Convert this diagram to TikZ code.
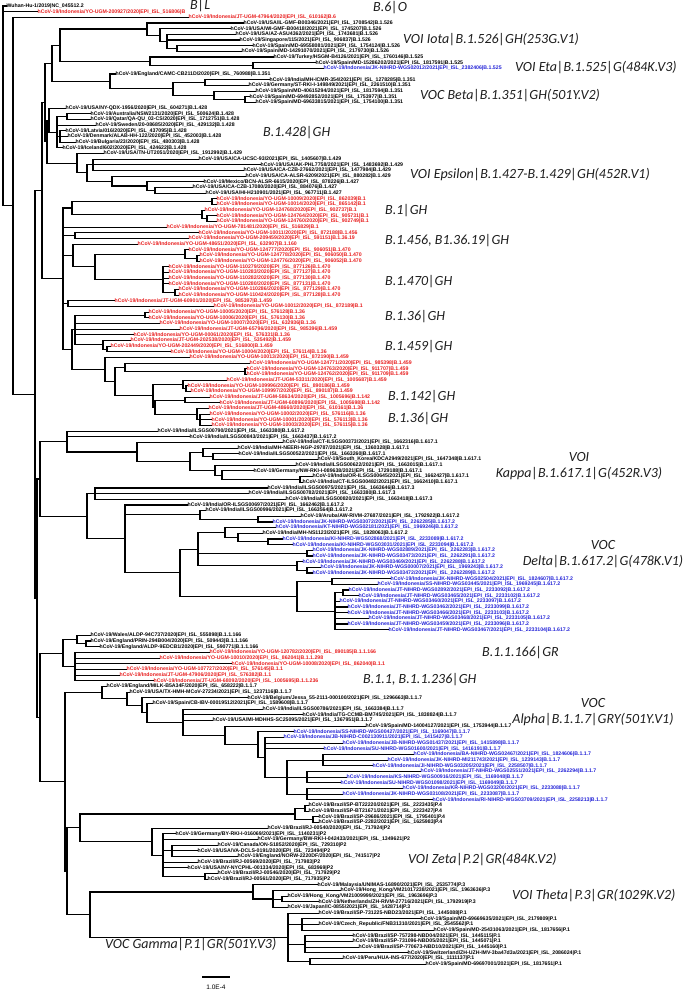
\documentclass[tikz,border=0pt]{standalone}
\usepackage{fontspec}
\usetikzlibrary{calc}
\newfontfamily\arialfamily{Liberation Sans}
\newfontfamily\calibrifamily{Carlito}
\definecolor{idnred}{RGB}{232,30,30}
\definecolor{nihblue}{RGB}{36,36,215}
\definecolor{cladegray}{RGB}{30,30,30}
\newcommand\hcov{hCoV-19/}
\newcommand\hcid{hCoV-19/Indonesia/}
\newcommand\epiisl{EPI\_ISL\_}
% clade: name, x, first child, last child, children
\newcommand\clade[5]{%
  \path let \p1=($(#3)!.5!(#4)$) in (#2pt,\y1) coordinate (#1);
  \foreach \kid in {#5} \draw[branch] (#1) |- (\kid);
}

\begin{document}
\begin{tikzpicture}[x=1pt, y=-1pt,
    leaf/.style={anchor=west, inner sep=0.4pt, font=\arialfamily\bfseries\fontsize{5.2}{5.2}\selectfont},
    idn/.style={leaf, text=idnred},
    nih/.style={leaf, text=nihblue},
    branch/.style={line width=1.1pt, line cap=rect},
    clade/.style={anchor=west, inner sep=0pt, text=cladegray, font=\calibrifamily\itshape\fontsize{14}{16}\selectfont}
]
\useasboundingbox (0,0) rectangle (685,991);

% Leaves, top part
\node[leaf] (L0) at (6,6.0) {Wuhan-Hu-1/2019|NC\_045512.2};
\node[idn] (L1) at (37,11.7) {\hcid YO-UGM-200927/2020|\epiisl 516806|B};
\node[idn] (L2) at (188,17.3) {\hcid JT-UGM-47964/2020|\epiisl 610162|B.6};
\node[leaf] (L3) at (243,23.0) {\hcov USA/IL-GMF-B00346/2021|\epiisl 1708542|B.1.526};
\node[leaf] (L4) at (230,28.7) {\hcov USA/WI-GMF-B00418/2021|\epiisl 1745207|B.1.526};
\node[leaf] (L5) at (235,34.4) {\hcov USA/AZ-ASU4362/2021|\epiisl 1743681|B.1.526};
\node[leaf] (L6) at (239,40.0) {\hcov Singapore/115/2021|\epiisl 906837|B.1.526};
\node[leaf] (L7) at (252,45.7) {\hcov Spain/MD-69558081/2021|\epiisl 1754124|B.1.526};
\node[leaf] (L8) at (241,51.4) {\hcov Spain/MD-14291070/2021|\epiisl 2179730|B.1.526};
\node[leaf] (L9) at (273,57.0) {\hcov Turkey/HSGM-B4126/2021|\epiisl 1760146|B.1.525};
\node[leaf] (L10) at (315,62.7) {\hcov Spain/MD-15286202/2021|\epiisl 1817591|B.1.525};
\node[nih] (L11) at (323,68.4) {\hcid JK-NIHRD-WGS02012/2021|\epiisl 2382406|B.1.525};
\node[leaf] (L12) at (115,74.0) {\hcov England/CAMC-CB211D/2020|\epiisl 760988|B.1.351};
\node[leaf] (L13) at (269,79.7) {\hcov India/MH-ICMR-354/2021|\epiisl 1278285|B.1.351};
\node[leaf] (L14) at (248,85.4) {\hcov Germany/ST-RKI-I-149849/2021|\epiisl 2261510|B.1.351};
\node[leaf] (L15) at (255,91.1) {\hcov Spain/MD-40615294/2021|\epiisl 1817594|B.1.351};
\node[leaf] (L16) at (249,96.7) {\hcov Spain/MD-69492852/2021|\epiisl 1753977|B.1.351};
\node[leaf] (L17) at (255,102.4) {\hcov Spain/MD-69633815/2021|\epiisl 1754100|B.1.351};
\node[leaf] (L18) at (65,108.1) {\hcov USA/NY-QDX-1956/2020|\epiisl 604271|B.1.428};
\node[leaf] (L19) at (90,113.7) {\hcov Australia/NSW2131/2020|\epiisl 500624|B.1.428};
\node[leaf] (L20) at (90,119.4) {\hcov Qatar/QA-QU\_03-CS/2020|\epiisl 1712751|B.1.428};
\node[leaf] (L21) at (95,125.1) {\hcov Sweden/20-08685/2020|\epiisl 429132|B.1.428};
\node[leaf] (L22) at (65,130.7) {\hcov Latvia/016/2020|\epiisl 437095|B.1.428};
\node[leaf] (L23) at (67,136.4) {\hcov Denmark/ALAB-HH-122/2020|\epiisl 452003|B.1.428};
\node[leaf] (L24) at (75,142.1) {\hcov Bulgaria/23/2020|\epiisl 480303|B.1.428};
\node[leaf] (L25) at (62,147.8) {\hcov Iceland/602/2020|\epiisl 424622|B.1.428};
\node[leaf] (L26) at (103,153.4) {\hcov USA/TN-UT2051/2020|\epiisl 1912992|B.1.429};
\node[leaf] (L27) at (198,159.1) {\hcov USA/CA-UCSC-93/2021|\epiisl 1405607|B.1.429};
\node[leaf] (L28) at (260,164.8) {\hcov USA/AK-PHL7758/2021|\epiisl 1483692|B.1.429};
\node[leaf] (L29) at (243,170.4) {\hcov USA/CA-CZB-27662/2021|\epiisl 1477984|B.1.429};
\node[leaf] (L30) at (245,176.1) {\hcov USA/CA-ALSR-6209/2021|\epiisl 880282|B.1.429};
\node[leaf] (L31) at (203,181.8) {\hcov Mexico/BCN-ALSR-6615/2020|\epiisl 878226|B.1.427};
\node[leaf] (L32) at (192,187.4) {\hcov USA/CA-CZB-17080/2020|\epiisl 884076|B.1.427};
\node[leaf] (L33) at (205,193.1) {\hcov USA/HI-H210901/2021|\epiisl 967711|B.1.427};

% Leaves, Indonesian GH group
\node[idn] (L34) at (216,198.8) {\hcid YO-UGM-10009/2020|\epiisl 862039|B.1};
\node[idn] (L35) at (216,204.5) {\hcid YO-UGM-10014/2020|\epiisl 865142|B.1};
\node[idn] (L36) at (204,210.1) {\hcid YO-UGM-124768/2020|\epiisl 902737|B.1};
\node[idn] (L37) at (216,215.8) {\hcid YO-UGM-124764/2020|\epiisl 905731|B.1};
\node[idn] (L38) at (216,221.5) {\hcid YO-UGM-124760/2020|\epiisl 902749|B.1};
\node[idn] (L39) at (166,227.1) {\hcid YO-UGM-781481/2020|\epiisl 516829|B.1};
\node[idn] (L40) at (198,232.8) {\hcid YO-UGM-10011/2020|\epiisl 872188|B.1.456};
\node[idn] (L41) at (188,238.5) {\hcid YO-UGM-209459/2020|\epiisl 591151|B.1.36.19};
\node[idn] (L42) at (137,244.1) {\hcid YO-UGM-48651/2020|\epiisl 632907|B.1.160};
\node[idn] (L43) at (188,249.8) {\hcid YO-UGM-124777/2020|\epiisl 906051|B.1.470};
\node[idn] (L44) at (199,255.5) {\hcid YO-UGM-124778/2020|\epiisl 906050|B.1.470};
\node[idn] (L45) at (199,261.2) {\hcid YO-UGM-124776/2020|\epiisl 906052|B.1.470};
\node[idn] (L46) at (168,266.8) {\hcid YO-UGM-110279/2020|\epiisl 877126|B.1.470};
\node[idn] (L47) at (168,272.5) {\hcid YO-UGM-110283/2020|\epiisl 877127|B.1.470};
\node[idn] (L48) at (168,278.2) {\hcid YO-UGM-110282/2020|\epiisl 877130|B.1.470};
\node[idn] (L49) at (168,283.8) {\hcid YO-UGM-110280/2020|\epiisl 877131|B.1.470};
\node[idn] (L50) at (178,289.5) {\hcid YO-UGM-110286/2020|\epiisl 877129|B.1.470};
\node[idn] (L51) at (178,295.2) {\hcid YO-UGM-110424/2020|\epiisl 877128|B.1.470};
\node[idn] (L52) at (114,300.8) {\hcid JT-UGM-60901/2020|\epiisl 985397|B.1.459};
\node[idn] (L53) at (213,306.5) {\hcid YO-UGM-10012/2020|\epiisl 872189|B.1};
\node[idn] (L54) at (148,312.2) {\hcid YO-UGM-10005/2020|\epiisl 576128|B.1.36};
\node[idn] (L55) at (148,317.9) {\hcid YO-UGM-10006/2020|\epiisl 576130|B.1.36};
\node[idn] (L56) at (159,323.5) {\hcid YO-UGM-10007/2020|\epiisl 632936|B.1.36};
\node[idn] (L57) at (179,329.2) {\hcid JT-UGM-65796/2020|\epiisl 985396|B.1.459};
\node[idn] (L58) at (133,334.9) {\hcid YO-UGM-00061/2020|\epiisl 576331|B.1.36};
\node[idn] (L59) at (130,340.5) {\hcid JT-UGM-202538/2020|\epiisl 535492|B.1.459};
\node[idn] (L60) at (110,346.2) {\hcid YO-UGM-202449/2020|\epiisl 516800|B.1.459};
\node[idn] (L61) at (170,351.9) {\hcid YO-UGM-10004/2020|\epiisl 576114|B.1.36};
\node[idn] (L62) at (189,357.5) {\hcid YO-UGM-10013/2020|\epiisl 872190|B.1.459};
\node[idn] (L63) at (249,363.2) {\hcid YO-UGM-124771/2020|\epiisl 985398|B.1.459};
\node[idn] (L64) at (246,368.9) {\hcid YO-UGM-124763/2020|\epiisl 911707|B.1.459};
\node[idn] (L65) at (246,374.6) {\hcid YO-UGM-124762/2020|\epiisl 911709|B.1.459};
\node[idn] (L66) at (226,380.2) {\hcid JT-UGM-53311/2020|\epiisl 1005687|B.1.459};
\node[idn] (L67) at (187,385.9) {\hcid YO-UGM-109996/2020|\epiisl 890186|B.1.459};
\node[idn] (L68) at (190,391.6) {\hcid YO-UGM-109997/2020|\epiisl 890187|B.1.459};
\node[idn] (L69) at (209,397.2) {\hcid JT-UGM-58634/2020|\epiisl 1005696|B.1.142};
\node[idn] (L70) at (219,402.9) {\hcid JT-UGM-60896/2020|\epiisl 1005698|B.1.142};
\node[idn] (L71) at (208,408.6) {\hcid JT-UGM-48660/2020|\epiisl 610161|B.1.36};
\node[idn] (L72) at (209,414.2) {\hcid YO-UGM-10002/2020|\epiisl 576116|B.1.36};
\node[idn] (L73) at (211,419.9) {\hcid YO-UGM-10001/2020|\epiisl 576113|B.1.36};
\node[idn] (L74) at (211,425.6) {\hcid YO-UGM-10003/2020|\epiisl 576115|B.1.36};

% Leaves, Kappa and Delta
\node[leaf] (L75) at (157,431.3) {\hcov India/ILSGS00790/2021|\epiisl 1663380|B.1.617.2};
\node[leaf] (L76) at (189,436.9) {\hcov India/ILSGS00843/2021|\epiisl 1663437|B.1.617.2};
\node[leaf] (L77) at (282,442.6) {\hcov India/CT-ILSGS00373/2021|\epiisl 1662316|B.1.617.1};
\node[leaf] (L78) at (237,448.3) {\hcov India/MH-NEERI-NGP-29787/2021|\epiisl 1360328|B.1.617.1};
\node[leaf] (L79) at (238,453.9) {\hcov India/ILSGS00522/2021|\epiisl 1663260|B.1.617.1};
\node[leaf] (L80) at (317,459.6) {\hcov South\_Korea/KDCA2949/2021|\epiisl 1647348|B.1.617.1};
\node[leaf] (L81) at (295,465.3) {\hcov India/ILSGS00622/2021|\epiisl 1663015|B.1.617.1};
\node[leaf] (L82) at (253,470.9) {\hcov Germany/NW-RKI-I-089638/2021|\epiisl 1729188|B.1.617.1};
\node[leaf] (L83) at (312,476.6) {\hcov India/OR-ILSGS00645/2021|\epiisl 1662427|B.1.617.1};
\node[leaf] (L84) at (302,482.3) {\hcov India/CT-ILSGS00482/2021|\epiisl 1662410|B.1.617.1};
\node[leaf] (L85) at (267,488.0) {\hcov India/ILSGS00975/2021|\epiisl 1663646|B.1.617.3};
\node[leaf] (L86) at (248,493.6) {\hcov India/ILSGS00782/2021|\epiisl 1663380|B.1.617.3};
\node[leaf] (L87) at (285,499.3) {\hcov India/ILSGS00820/2021|\epiisl 1663418|B.1.617.3};
\node[leaf] (L88) at (187,505.0) {\hcov India/OR-ILSGS00697/2021|\epiisl 1662462|B.1.617.2};
\node[leaf] (L89) at (205,510.6) {\hcov India/ILSGS00996/2021|\epiisl 1663564|B.1.617.2};
\node[leaf] (L90) at (300,516.3) {\hcov Aruba/AW-RIVM-27687/2021|\epiisl 1792922|B.1.617.2};
\node[nih] (L91) at (272,522.0) {\hcid JK-NIHRD-WGS03072/2021|\epiisl 2262285|B.1.617.2};
\node[nih] (L92) at (275,527.6) {\hcid KT-NIHRD-WGS02181/2021|\epiisl 1969246|B.1.617.2};
\node[leaf] (L93) at (262,533.3) {\hcov India/MH-NS1123/2021|\epiisl 1828063|B.1.617.2};
\node[nih] (L94) at (282,539.0) {\hcid KI-NIHRD-WGS02868/2021|\epiisl 2233089|B.1.617.2};
\node[nih] (L95) at (292,544.7) {\hcid KI-NIHRD-WGS03031/2021|\epiisl 2233094|B.1.617.2};
\node[nih] (L96) at (312,550.3) {\hcid JK-NIHRD-WGS02889/2021|\epiisl 2262283|B.1.617.2};
\node[nih] (L97) at (312,556.0) {\hcid JK-NIHRD-WGS03473/2021|\epiisl 2262291|B.1.617.2};
\node[nih] (L98) at (302,561.7) {\hcid JK-NIHRD-WGS03469/2021|\epiisl 2262288|B.1.617.2};
\node[nih] (L99) at (320,567.3) {\hcid JK-NIHRD-WGS00007/2021|\epiisl 1969243|B.1.617.2};
\node[nih] (L100) at (312,573.0) {\hcid JK-NIHRD-WGS03472/2021|\epiisl 2262289|B.1.617.2};
\node[nih] (L101) at (390,578.7) {\hcid JK-NIHRD-WGS02504/2021|\epiisl 1824607|B.1.617.2};
\node[nih] (L102) at (377,584.3) {\hcid SS-NIHRD-WGS03445/2021|\epiisl 1969245|B.1.617.2};
\node[nih] (L103) at (348,590.0) {\hcid JT-NIHRD-WGS02892/2021|\epiisl 2233092|B.1.617.2};
\node[nih] (L104) at (358,595.7) {\hcid JT-NIHRD-WGS03465/2021|\epiisl 2233102|B.1.617.2};
\node[nih] (L105) at (339,601.4) {\hcid JT-NIHRD-WGS03460/2021|\epiisl 2233097|B.1.617.2};
\node[nih] (L106) at (347,607.0) {\hcid JT-NIHRD-WGS03462/2021|\epiisl 2233099|B.1.617.2};
\node[nih] (L107) at (347,612.7) {\hcid JT-NIHRD-WGS03466/2021|\epiisl 2233103|B.1.617.2};
\node[nih] (L108) at (368,618.4) {\hcid JT-NIHRD-WGS03468/2021|\epiisl 2233105|B.1.617.2};
\node[nih] (L109) at (347,624.0) {\hcid JT-NIHRD-WGS03459/2021|\epiisl 2233096|B.1.617.2};
\node[nih] (L110) at (388,629.7) {\hcid JT-NIHRD-WGS03467/2021|\epiisl 2233104|B.1.617.2};

% Leaves, B.1.1 and Alpha
\node[leaf] (L111) at (90,635.4) {\hcov Wales/ALDP-94C737/2020|\epiisl 555898|B.1.1.166};
\node[leaf] (L112) at (90,641.0) {\hcov England/PRIN-294B004/2020|\epiisl 509443|B.1.1.166};
\node[leaf] (L113) at (99,646.7) {\hcov England/ALDP-9EDCB1/2020|\epiisl 590771|B.1.1.166};
\node[idn] (L114) at (209,652.4) {\hcid YO-UGM-120782/2020|\epiisl 890185|B.1.1.166};
\node[idn] (L115) at (159,658.1) {\hcid YO-UGM-10010/2020|\epiisl 862041|B.1.1.298};
\node[idn] (L116) at (231,663.7) {\hcid YO-UGM-10008/2020|\epiisl 862040|B.1.1};
\node[idn] (L117) at (126,669.4) {\hcid YO-UGM-107727/2020|\epiisl 576145|B.1.1};
\node[idn] (L118) at (119,675.1) {\hcid JT-UGM-47906/2020|\epiisl 576382|B.1.1};
\node[idn] (L119) at (153,680.7) {\hcid JT-UGM-68092/2020|\epiisl 1005695|B.1.1.236};
\node[leaf] (L120) at (106,686.4) {\hcov England/MILK-B5A34F/2020|\epiisl 658222|B.1.1.7};
\node[leaf] (L121) at (129,692.1) {\hcov USA/TX-HMH-MCoV-27234/2021|\epiisl 1237116|B.1.1.7};
\node[leaf] (L122) at (247,697.7) {\hcov Belgium/Jessa\_55-2111-000100/2021|\epiisl 1296663|B.1.1.7};
\node[leaf] (L123) at (152,703.4) {\hcov Spain/CB-IBV-00019512/2021|\epiisl 1589608|B.1.1.7};
\node[leaf] (L124) at (262,709.1) {\hcov India/ILSGS00786/2021|\epiisl 1663384|B.1.1.7};
\node[leaf] (L125) at (302,714.8) {\hcov India/TG-CCMB-BM745/2021|\epiisl 1838824|B.1.1.7};
\node[leaf] (L126) at (212,720.4) {\hcov USA/MI-MDHHS-SC25095/2021|\epiisl 1367951|B.1.1.7};
\node[leaf] (L127) at (365,726.1) {\hcov Spain/MD-14004127/2021|\epiisl 1753944|B.1.1.7};
\node[nih] (L128) at (293,731.8) {\hcid SS-NIHRD-WGS00427/2021|\epiisl 1169047|B.1.1.7};
\node[nih] (L129) at (283,737.4) {\hcid JB-NIHRD-C002130911/2021|\epiisl 1415427|B.1.1.7};
\node[nih] (L130) at (342,743.1) {\hcid JB-NIHRD-WGS01437/2021|\epiisl 1415898|B.1.1.7};
\node[nih] (L131) at (323,748.8) {\hcid SU-NIHRD-WGS01600/2021|\epiisl 1416191|B.1.1.7};
\node[nih] (L132) at (413,754.4) {\hcid BA-NIHRD-WGS02467/2021|\epiisl 1824606|B.1.1.7};
\node[nih] (L133) at (387,760.1) {\hcid JK-NIHRD-MI211743/2021|\epiisl 1239143|B.1.1.7};
\node[nih] (L134) at (372,765.8) {\hcid JI-NIHRD-WGS03205/2021|\epiisl 2258507|B.1.1.7};
\node[nih] (L135) at (420,771.5) {\hcid JT-NIHRD-WGS02551/2021|\epiisl 2262294|B.1.1.7};
\node[nih] (L136) at (346,777.1) {\hcid KS-NIHRD-WGS00916/2021|\epiisl 1169048|B.1.1.7};
\node[nih] (L137) at (340,782.8) {\hcid SU-NIHRD-WGS01098/2021|\epiisl 1169049|B.1.1.7};
\node[nih] (L138) at (402,788.5) {\hcid KR-NIHRD-WGS03200/2021|\epiisl 2233088|B.1.1.7};
\node[nih] (L139) at (342,794.1) {\hcid JK-NIHRD-WGS03108/2021|\epiisl 2233087|B.1.1.7};
\node[nih] (L140) at (432,799.8) {\hcid RI-NIHRD-WGS03709/2021|\epiisl 2258213|B.1.1.7};

% Leaves, P lineages
\node[leaf] (L141) at (308,805.5) {\hcov Brazil/SP-BT22220/2021|\epiisl 2223435|P.4};
\node[leaf] (L142) at (308,811.1) {\hcov Brazil/SP-BT21671/2021|\epiisl 2223427|P.4};
\node[leaf] (L143) at (318,816.8) {\hcov Brazil/SP-29686/2021|\epiisl 1795401|P.4};
\node[leaf] (L144) at (318,822.5) {\hcov Brazil/SP-2282/2021|\epiisl 1625983|P.4};
\node[leaf] (L145) at (267,828.2) {\hcov Brazil/RJ-00540/2020|\epiisl 717924|P2};
\node[leaf] (L146) at (175,833.8) {\hcov Germany/BY-RKI-I-016069/2021|\epiisl 1140231|P2};
\node[leaf] (L147) at (257,839.5) {\hcov Germany/BW-RKI-I-042433/2021|\epiisl 1349621|P2};
\node[leaf] (L148) at (217,845.2) {\hcov Canada/ON-S1852/2020|\epiisl 729310|P2};
\node[leaf] (L149) at (197,850.8) {\hcov USA/VA-DCLS-0191/2020|\epiisl 723494|P2};
\node[leaf] (L150) at (237,856.5) {\hcov England/NORW-2220DF/2020|\epiisl 741517|P2};
\node[leaf] (L151) at (197,862.2) {\hcov Brazil/RJ-00569/2020|\epiisl 717983|P2};
\node[leaf] (L152) at (187,867.8) {\hcov USA/NY-NYCPHL-001334/2020|\epiisl 683969|P2};
\node[leaf] (L153) at (217,873.5) {\hcov Brazil/RJ-00546/2020|\epiisl 717929|P2};
\node[leaf] (L154) at (207,879.2) {\hcov Brazil/RJ-00561/2020|\epiisl 717935|P2};
\node[leaf] (L155) at (317,884.9) {\hcov Malaysia/UNIMAS-16890/2021|\epiisl 2535774|P.3};
\node[leaf] (L156) at (340,890.5) {\hcov Hong\_Kong/VM21017238/2021|\epiisl 1963636|P.3};
\node[leaf] (L157) at (287,896.2) {\hcov Hong\_Kong/VM21009999/2021|\epiisl 1963696|P.3};
\node[leaf] (L158) at (318,901.9) {\hcov Netherlands/ZH-RIVM-27716/2021|\epiisl 1792919|P.3};
\node[leaf] (L159) at (287,907.5) {\hcov Japan/IC-0855/2021|\epiisl 1428714|P.3};
\node[leaf] (L160) at (318,913.2) {\hcov Brazil/SP-731225-NBD23/2021|\epiisl 1445088|P.1};
\node[leaf] (L161) at (420,918.9) {\hcov Spain/MD-69669635/2021|\epiisl 2179809|P.1};
\node[leaf] (L162) at (318,924.5) {\hcov Czech\_Republic/FNB31310/2021|\epiisl 2545562|P.1};
\node[leaf] (L163) at (433,930.2) {\hcov Spain/MD-25431063/2021|\epiisl 1817656|P.1};
\node[leaf] (L164) at (352,935.9) {\hcov Brazil/SP-757298-NBD04/2021|\epiisl 1445115|P.1};
\node[leaf] (L165) at (352,941.6) {\hcov Brazil/SP-731096-NBD05/2021|\epiisl 1445071|P.1};
\node[leaf] (L166) at (358,947.2) {\hcov Brazil/SP-770673-NBD10/2021|\epiisl 1445160|P.1};
\node[leaf] (L167) at (407,952.9) {\hcov Switzerland/ZH-UZH-IMV-3ba47d3a/2021|\epiisl 2086024|P.1};
\node[leaf] (L168) at (342,958.6) {\hcov Peru/HUA-INS-677/2020|\epiisl 1111137|P.1};
\node[leaf] (L169) at (425,964.2) {\hcov Spain/MD-69697001/2021|\epiisl 1817651|P.1};

% Iota, Eta, Beta
\clade{iota4}{177}{L7}{L8}{L7,L8}
\clade{iota3}{167}{L5}{iota4}{L5,L6,iota4}
\clade{iota2}{160}{L4}{iota3}{L4,iota3}
\clade{iota}{147}{L3}{iota2}{L3,iota2}
\clade{eta2}{253}{L10}{L11}{L10,L11}
\clade{eta}{150}{L9}{eta2}{L9,eta2}
\clade{ioet}{60}{iota}{eta}{iota,eta}
\clade{beta5}{245}{L16}{L17}{L16,L17}
\clade{beta4}{214}{L15}{beta5}{L15,beta5}
\clade{beta3}{205}{L13}{L14}{L13,L14}
\clade{beta2}{173}{beta3}{beta4}{beta3,beta4}
\clade{beta}{110}{L12}{beta2}{L12,beta2}
\clade{vgrp}{52}{ioet}{beta}{ioet,beta}

% B.1.428, Epsilon
\clade{k3}{67}{L19}{L20}{L19,L20}
\clade{k4}{60}{L22}{L24}{L22,L23,L24}
\clade{k2}{57}{k3}{L25}{k3,L21,k4,L25}
\clade{k428}{49}{L18}{k2}{L18,k2}
\clade{e6}{155}{L32}{L33}{L32,L33}
\clade{e5}{147}{L31}{e6}{L31,e6}
\clade{e4}{112}{L30}{e5}{L30,e5}
\clade{e3}{93}{L27}{L29}{L27,L28,L29}
\clade{e2}{87}{e3}{e4}{e3,e4}
\clade{eps}{77}{L26}{e2}{L26,e2}
\clade{grp428}{47}{k428}{eps}{k428,eps}
\clade{upper}{45}{vgrp}{grp428}{vgrp,grp428}

% Indonesian GH lineages
\clade{b1a}{212}{L34}{L35}{L34,L35}
\clade{b1c}{207}{L37}{L38}{L37,L38}
\clade{b1b}{202}{L36}{b1c}{L36,b1c}
\clade{b1}{72}{b1a}{b1b}{b1a,b1b}
\clade{b456}{75}{L40}{L41}{L40,L41}
\clade{b470b}{197}{L44}{L45}{L44,L45}
\clade{b470a}{185}{L43}{b470b}{L43,b470b}
\clade{b470d}{175}{L50}{L51}{L50,L51}
\clade{b470c}{163}{L46}{b470d}{L46,L47,L48,L49,b470d}
\clade{b470}{95}{b470a}{b470c}{b470a,b470c}
\clade{b160}{73}{L42}{b470}{L42,b470}
\clade{b459a}{68}{L52}{L53}{L52,L53}
\clade{b36a}{145}{L54}{L55}{L54,L55}
\clade{b459c}{107}{L60}{L61}{L60,L61}
\clade{b459b}{103}{L59}{b459c}{L59,b459c}
\clade{b36}{75}{b36a}{b459b}{b36a,L56,L57,L58,b459b}
\clade{g459b}{245}{L64}{L65}{L64,L65}
\clade{g459a}{125}{L63}{g459b}{L63,g459b}
\clade{g459d}{186}{L67}{L68}{L67,L68}
\clade{g459c}{183}{L66}{g459d}{L66,g459d}
\clade{g142}{185}{L69}{L70}{L69,L70}
\clade{g36b}{200}{L72}{L74}{L72,L73,L74}
\clade{g36a}{197}{L71}{g36b}{L71,g36b}
\clade{g23}{155}{g142}{g36a}{g142,g36a}
\clade{g20}{153}{g459c}{g23}{g459c,g23}
\clade{g17}{115}{g459a}{g20}{g459a,g20}
\clade{g16}{105}{L62}{g17}{L62,g17}
\clade{gff}{72}{b36}{g16}{b36,g16}
\clade{gh}{63}{b1}{gff}{b1,L39,b456,b160,b459a,gff}
\clade{cgrp}{42}{upper}{gh}{upper,gh}

% Kappa, Delta
\clade{kp7}{300}{L83}{L84}{L83,L84}
\clade{kp6}{222}{L82}{kp7}{L82,kp7}
\clade{kp5}{215}{L81}{kp6}{L81,kp6}
\clade{kp4}{213}{L79}{L80}{L79,L80}
\clade{kp3}{203}{L78}{kp4}{L78,kp4}
\clade{kp2}{190}{kp3}{kp5}{kp3,kp5}
\clade{kp}{137}{L77}{kp2}{L77,kp2}
\clade{kd1}{67}{L75}{kp}{L75,L76,kp}
\clade{k617}{95}{L85}{L87}{L85,L86,L87}
\clade{dl3}{258}{L90}{L91}{L90,L91}
\clade{dl2}{200}{L89}{dl3}{L89,dl3}
\clade{dl14}{268}{L94}{L95}{L94,L95}
\clade{dl13}{238}{L93}{dl14}{L93,dl14}
\clade{dl10}{225}{L92}{dl13}{L92,dl13}
\clade{dl11}{307}{L96}{L97}{L96,L97}
\clade{dl16}{307}{L99}{L100}{L99,L100}
\clade{dl12}{297}{L98}{dl16}{L98,dl16}
\clade{dl9}{198}{dl10}{dl12}{dl10,dl11,dl12}
\clade{dl6}{332}{L101}{L102}{L101,L102}
\clade{dl8}{343}{L103}{L104}{L103,L104}
\clade{dl7}{335}{dl8}{L110}{dl8,L105,L106,L107,L108,L109,L110}
\clade{dl5}{297}{dl6}{dl7}{dl6,dl7}
\clade{dl4}{180}{dl9}{dl5}{dl9,dl5}
\clade{dl}{125}{L88}{dl4}{L88,dl2,dl4}
\clade{kd2}{87}{k617}{dl}{k617,dl}
\clade{kd}{40}{kd1}{kd2}{kd1,kd2}

% B.1.1, Alpha
\clade{g1a}{86}{L112}{L113}{L112,L113}
\clade{g1}{77}{L111}{g1a}{L111,g1a}
\clade{g2}{75}{L114}{L119}{L114,L115,L116,L117,L118,L119}
\clade{bb}{63}{g1}{g2}{g1,g2}
\clade{a11}{323}{L132}{L134}{L132,L133,L134}
\clade{a12}{307}{L135}{L137}{L135,L136,L137}
\clade{a13}{307}{L138}{L140}{L138,L139,L140}
\clade{a10}{287}{a11}{a13}{a11,a12,a13}
\clade{a9}{265}{L129}{a10}{L129,L130,L131,a10}
\clade{a8}{258}{L128}{a9}{L128,a9}
\clade{a7}{225}{L127}{a8}{L127,a8}
\clade{a5}{183}{L124}{a7}{L124,L125,L126,a7}
\clade{a4}{147}{L123}{a5}{L123,a5}
\clade{a3}{142}{L122}{a4}{L122,a4}
\clade{a2}{127}{L121}{a3}{L121,a3}
\clade{a1}{102}{L120}{a2}{L120,a2}

% P.4, Zeta, Theta, Gamma
\clade{p4a}{305}{L141}{L142}{L141,L142}
\clade{p4b}{313}{L143}{L144}{L143,L144}
\clade{p4}{295}{p4a}{p4b}{p4a,p4b}
\clade{z4}{172}{L148}{L150}{L148,L149,L150}
\clade{z5}{205}{L153}{L154}{L153,L154}
\clade{z3}{163}{L146}{z5}{L146,L147,z4,L151,L152,z5}
\clade{z2}{152}{L145}{z3}{L145,z3}
\clade{zeta}{80}{p4}{z2}{p4,z2}
\clade{p3b}{282}{L157}{L158}{L157,L158}
\clade{p3a}{273}{L156}{L159}{L156,p3b,L159}
\clade{p3}{253}{L155}{p3a}{L155,p3a}
\clade{p1a}{302}{L161}{L163}{L161,L162,L163}
\clade{p1b}{305}{L164}{L167}{L164,L165,L166,L167}
\clade{p1c}{310}{L168}{L169}{L168,L169}
\clade{p1}{288}{L160}{p1c}{L160,p1a,p1b,p1c}
\clade{pg}{90}{p3}{p1}{p3,p1}
\clade{pp}{67}{zeta}{pg}{zeta,pg}
\clade{grb}{65}{a1}{pp}{a1,pp}
\clade{gr}{40}{bb}{grb}{bb,grb}

% Backbone
\clade{lower}{37}{kd}{gr}{kd,gr}
\clade{bnode}{35}{cgrp}{lower}{cgrp,lower}
\clade{anode}{13}{L2}{bnode}{L2,bnode}
\clade{root}{3}{L0}{anode}{L0,L1,anode}

% Clade labels
\node[clade] (lbBL) at (190,6) {B|L};
\node[clade] (lbB6) at (373,8) {B.6|O};
\node[clade] (lbIota) at (403,40) {VOI Iota|B.1.526|GH(253G.V1)};
\node[clade] (lbEta) at (515,68) {VOI Eta|B.1.525|G(484K.V3)};
\node[clade] (lbBeta) at (420,96) {VOC Beta|B.1.351|GH(501Y.V2)};
\node[clade] (lb428) at (263,133) {B.1.428|GH};
\node[clade] (lbEps) at (410,175) {VOI Epsilon|B.1.427-B.1.429|GH(452R.V1)};
\node[clade] (lbB1) at (385,211) {B.1|GH};
\node[clade] (lb456) at (385,241) {B.1.456, B1.36.19|GH};
\node[clade] (lb470) at (385,282) {B.1.470|GH};
\node[clade] (lb36a) at (385,317) {B.1.36|GH};
\node[clade] (lb459) at (385,347) {B.1.459|GH};
\node[clade] (lb142) at (388,397) {B.1.142|GH};
\node[clade] (lb36b) at (388,419) {B.1.36|GH};
\node[clade, anchor=center, align=center] (lbKappa) at (579,466) {VOI\\Kappa|B.1.617.1|G(452R.V3)};
\node[clade, anchor=center, align=center] (lbDelta) at (603,554) {VOC\\Delta|B.1.617.2|G(478K.V1)};
\node[clade] (lb166) at (482,653) {B.1.1.166|GR};
\node[clade] (lb236) at (363,680) {B.1.1, B.1.1.236|GH};
\node[clade, anchor=center, align=center] (lbAlpha) at (593,712) {VOC\\Alpha|B.1.1.7|GRY(501Y.V1)};
\node[clade] (lbZeta) at (408,860) {VOI Zeta|P.2|GR(484K.V2)};
\node[clade] (lbTheta) at (512,896) {VOI Theta|P.3|GR(1029K.V2)};
\node[clade] (lbGamma) at (105,945) {VOC Gamma|P.1|GR(501Y.V3)};

% Scale bar
\coordinate (sb1) at (202,977);
\coordinate (sb2) at (230,977);
\draw[line width=1.4pt] (sb1) -- (sb2);
\node[font=\arialfamily\fontsize{6.5}{7}\selectfont] (sblab) at (216,987) {1.0E-4};

\end{tikzpicture}
\end{document}
